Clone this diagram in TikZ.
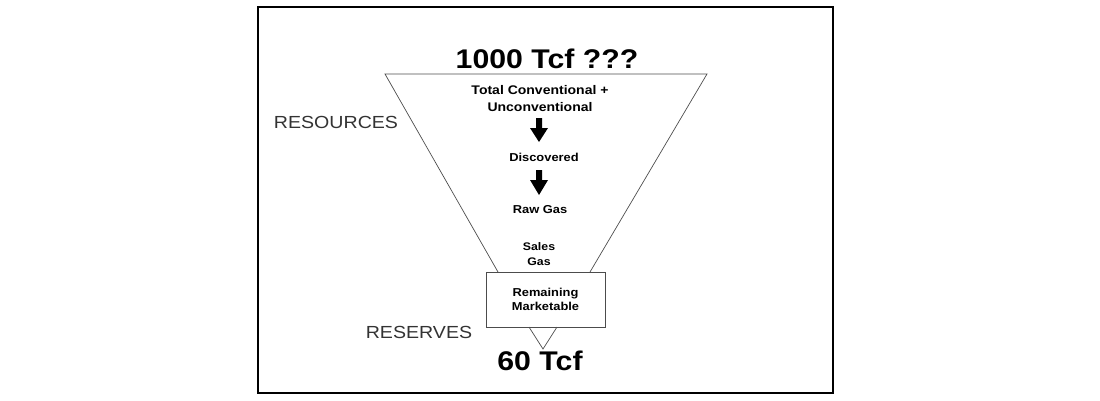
\documentclass[tikz,border=0pt]{standalone}
\usepackage{fontspec}
\setmainfont{Liberation Sans}[FakeStretch=1.12]
\begin{document}
\begin{tikzpicture}[x=1pt,y=-1pt,
  lbl/.style={inner sep=0pt,align=center,font=\bfseries\fontsize{11.5}{13}\selectfont},
  big/.style={inner sep=0pt,font=\bfseries\fontsize{27}{30}\selectfont},
  side/.style={inner sep=0pt,font=\fontsize{17.5}{20}\selectfont,text=black!80},
  edge/.style={draw=black!70,line width=0.7pt}]
\useasboundingbox (0,0) rectangle (1100,400);
\draw[line width=1.2pt] (258,7) rectangle (833,393);
\coordinate (tl) at (385,74);
\coordinate (tr) at (707,74);
\coordinate (bl) at (498,272);
\coordinate (br) at (590,272);
\coordinate (sl) at (529,327);
\coordinate (sr) at (557,327);
\coordinate (ap) at (543,349);
\draw[edge] (bl) -- (tl) -- (tr) -- (br);
\draw[edge] (sl) -- (ap) -- (sr);
\node[draw=black!70,line width=0.8pt,minimum width=119pt,minimum height=55pt,inner sep=0pt] (box) at (545.5,299.5) {};
\node[lbl,font=\bfseries\fontsize{11.5}{14.5}\selectfont] (rm) at (box) {Remaining\\Marketable};
\node[big] (top) at (547,59) {1000 Tcf ???};
\node[big] (bot) at (540,361) {60 Tcf};
\node[lbl,font=\bfseries\fontsize{12.5}{17}\selectfont] (tc) at (540,99) {Total Conventional +\\Unconventional};
\node[lbl] (disc) at (544,157) {Discovered};
\node[lbl] (raw) at (540,210) {Raw Gas};
\node[lbl,font=\bfseries\fontsize{11}{15}\selectfont] (sales) at (539,254) {Sales\\Gas};
\node[side] (res) at (336,122) {RESOURCES};
\node[side] (rsv) at (419,332) {RESERVES};
\fill (536,118) -- (542,118) -- (542,128) -- (548,128) -- (539,142) -- (530,128) -- (536,128) -- cycle;
\fill (536,170) -- (542,170) -- (542,180) -- (548,180) -- (539,195) -- (530,180) -- (536,180) -- cycle;
\end{tikzpicture}
\end{document}
